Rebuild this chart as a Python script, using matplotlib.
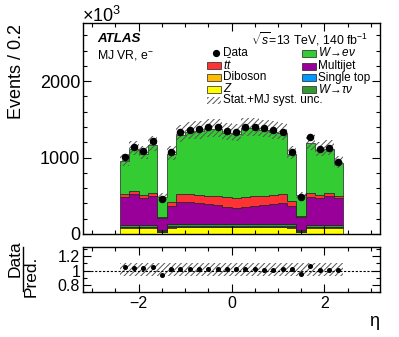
import numpy as np
import matplotlib
matplotlib.use('Agg')
import matplotlib.pyplot as plt
from matplotlib import ticker
from matplotlib.patches import Rectangle
from matplotlib.lines import Line2D

plt.rcParams['font.family'] = ['Liberation Sans', 'DejaVu Sans']
plt.rcParams['mathtext.fontset'] = 'custom'
plt.rcParams['mathtext.rm'] = 'Liberation Sans'
plt.rcParams['mathtext.it'] = 'Liberation Sans:italic'
plt.rcParams['mathtext.bf'] = 'Liberation Sans:bold'
plt.rcParams['hatch.linewidth'] = 0.7

# --- Data (Events / 0.2, in units of 10^3) ---
eta_edges = np.round(np.arange(-2.4, 2.41, 0.2), 1)

data = [1003, 1141, 1085, 1220, 453, 1068, 1329, 1359, 1368, 1394, 1394, 1346,
        1329, 1403, 1403, 1381, 1359, 1338, 1068, 484, 1264, 1111, 1128, 945]

z_bkg = [85, 85, 85, 85, 28, 85, 88, 88, 88, 88, 88, 88,
         88, 88, 88, 88, 88, 88, 85, 28, 85, 85, 85, 85]
diboson = [5, 5, 5, 5, 3, 5, 5, 5, 5, 5, 5, 5,
           5, 5, 5, 5, 5, 5, 5, 3, 5, 5, 5, 5]
single_top = [5, 5, 5, 5, 3, 10, 15, 15, 15, 15, 15, 15,
              15, 15, 15, 15, 15, 15, 10, 3, 5, 5, 5, 5]
w_taunu = [25, 25, 25, 25, 14, 30, 27, 27, 27, 27, 27, 27,
           27, 27, 27, 27, 27, 27, 30, 14, 25, 25, 25, 25]
multijet = [368, 399, 355, 377, 166, 236, 288, 279, 266, 253, 244, 222,
            209, 214, 231, 244, 253, 270, 236, 178, 364, 346, 377, 346]
ttbar = [30, 40, 40, 40, 12, 57, 100, 105, 110, 115, 120, 125,
         130, 130, 125, 122, 122, 118, 60, 12, 52, 43, 43, 25]
w_enu = [433, 547, 536, 629, 259, 621, 776, 813, 830, 864, 868, 838,
         835, 903, 891, 860, 829, 795, 626, 267, 652, 587, 572, 441]

# relative uncertainty (stat. + MJ syst.)
unc_up = [0.10] * 24
unc_dn = [0.07] * 24

# stack order bottom -> top
stack = [
    (z_bkg, '#ffff00', r'$Z$'),
    (diboson, '#ffbb00', 'Diboson'),
    (single_top, '#0099ff', 'Single top'),
    (w_taunu, '#339933', r'$W\!\rightarrow\!\tau\nu$'),
    (multijet, '#990099', 'Multijet'),
    (ttbar, '#ff3333', r'$t\bar{t}$'),
    (w_enu, '#33cc33', r'$W\!\rightarrow\!e\nu$'),
]
colors = {lab: col for _, col, lab in stack}

W, H = 399, 337
fig = plt.figure(figsize=(W / 100, H / 100), dpi=100)
ax = fig.add_axes([83 / W, 1 - 234 / H, 297 / W, 211 / H])
rax = fig.add_axes([83 / W, 1 - 292 / H, 297 / W, 45 / H])

# --- Main panel ---
bottom = np.zeros(len(data))
for vals, col, lab in stack:
    top = bottom + np.array(vals, dtype=float)
    ax.stairs(top, eta_edges, baseline=bottom, fill=True,
              facecolor=col, edgecolor='#202020', linewidth=0.5)
    bottom = top
total = bottom

ax.stairs(total * (1 + np.array(unc_up)), eta_edges, baseline=total * (1 - np.array(unc_dn)),
          fill=True, facecolor='none', edgecolor='#555555', linewidth=0, hatch='//////')

centers = 0.5 * (eta_edges[:-1] + eta_edges[1:])
ax.plot(centers, data, 'o', color='black', markersize=4.4, zorder=5)

ax.set_xlim(-3.2, 3.2)
ax.set_ylim(0, 2760)

# --- Ratio panel ---
ratio = np.array(data) / total
rax.stairs(1 + np.array(unc_up), eta_edges, baseline=1 - np.array(unc_dn),
           fill=True, facecolor='none', edgecolor='#555555', linewidth=0, hatch='//////')
rax.axhline(1, color='black', linestyle=(0, (2, 1.5)), linewidth=0.8)
rax.plot(centers, ratio, 'o', color='black', markersize=2.6, zorder=5)
rax.set_xlim(-3.2, 3.2)
rax.set_ylim(0.7, 1.33)

for a in (ax, rax):
    a.tick_params(which='both', direction='in', top=True, right=True)
    a.tick_params(which='major', length=6, width=0.8)
    a.tick_params(which='minor', length=3.2, width=0.8)
    a.xaxis.set_major_locator(ticker.MultipleLocator(2))
    a.xaxis.set_minor_locator(ticker.MultipleLocator(0.5))
    for s in a.spines.values():
        s.set_linewidth(1.0)

ax.yaxis.set_major_locator(ticker.MultipleLocator(1000))
ax.yaxis.set_minor_locator(ticker.MultipleLocator(200))
ax.tick_params(axis='x', labelbottom=False)
ax.tick_params(axis='y', labelsize=13, pad=2)

rax.yaxis.set_major_locator(ticker.FixedLocator([0.8, 1.0, 1.2]))
rax.yaxis.set_major_formatter(ticker.FixedFormatter(['0.8', '1', '1.2']))
rax.yaxis.set_minor_locator(ticker.MultipleLocator(0.1))
rax.tick_params(axis='y', labelsize=11.5, pad=2)
rax.tick_params(axis='x', labelsize=11.5, pad=3)
rax.xaxis.set_major_formatter(ticker.FuncFormatter(
    lambda v, p: ('\u2212%g' % abs(v)) if v < 0 else '%g' % v))

# --- Labels ---
fig.text(17 / W, 1 - 24 / H, 'Events / 0.2', rotation=90, ha='center', va='top', fontsize=13)
fig.text(82 / W, 1 - 16 / H, '\u00d710$^{3}$', ha='left', va='center', fontsize=13)
fig.text(374 / W, 1 - 321 / H, '\u03b7', ha='center', va='center', fontsize=13)
fig.text(15 / W, 1 - 259 / H, 'Data', rotation=90, ha='center', va='center', fontsize=12.5)
fig.text(31 / W, 1 - 276 / H, 'Pred.', rotation=90, ha='center', va='center', fontsize=12.5)
fig.add_artist(Line2D([23 / W, 23 / W], [1 - 291 / H, 1 - 247 / H],
                      transform=fig.transFigure, color='black', linewidth=1.0))

ax.text(0.047, 0.924, 'ATLAS', transform=ax.transAxes, fontsize=9.6,
        fontweight='bold', fontstyle='italic', va='center')
ax.text(0.047, 0.848, r'MJ VR, e$^{-}$', transform=ax.transAxes, fontsize=8.8, va='center')
ax.text(0.96, 0.924, r'$\sqrt{s}$=13 TeV, 140 fb$^{-1}$', transform=ax.transAxes,
        fontsize=8.8, ha='right', va='center')


# --- Legend (placed entry by entry, pixel rows as in the reference) ---
def px2ax(px, py):
    return (px - 83) / 297, (234 - py) / 211


box_w, box_h = 14 / 297, 7 / 211
left_col = [('Data', None, 53), (r'$t\bar{t}$', 'box', 65.5), ('Diboson', 'box', 77.5),
            (r'$Z$', 'box', 89), ('Stat.+MJ syst. unc.', 'hatch', 100)]
right_col = [(r'$W\!\rightarrow\!e\nu$', 'box', 53), ('Multijet', 'box', 66),
             ('Single top', 'box', 77.5), (r'$W\!\rightarrow\!\tau\nu$', 'box', 89.5)]

for col_x, entries in ((207, left_col), (302, right_col)):
    for lab, kind, py in entries:
        bx, by = px2ax(col_x, py)
        if kind is None:
            ax.plot([bx + box_w * 0.65], [by], 'o', color='black', markersize=4.2,
                    transform=ax.transAxes, clip_on=False)
        elif kind == 'hatch':
            ax.add_patch(Rectangle((bx, by - box_h / 2), box_w, box_h, transform=ax.transAxes,
                                   facecolor='none', edgecolor='#555555', linewidth=0,
                                   hatch='//////'))
        else:
            ax.add_patch(Rectangle((bx, by - box_h / 2), box_w, box_h, transform=ax.transAxes,
                                   facecolor=colors[lab], edgecolor='#202020', linewidth=0.5))
        tx, _ = px2ax(col_x + 16, py)
        ax.text(tx, by, lab, transform=ax.transAxes, fontsize=8.5, va='center', ha='left')

fig.savefig('out.png', dpi=100)
